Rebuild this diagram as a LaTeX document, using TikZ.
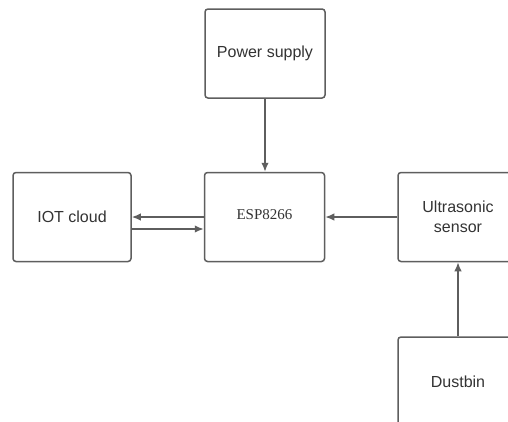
\documentclass[tikz,border=0pt]{standalone}
\usepackage{fontspec}
\setmainfont{Liberation Sans}
\newfontfamily\espfont{Liberation Serif}
\usetikzlibrary{arrows.meta}
\definecolor{linegray}{HTML}{5E5E5E}
\definecolor{textgray}{HTML}{333333}

\begin{document}
\begin{tikzpicture}[x=1pt,y=-1pt,
    block/.style={draw=linegray, line width=1.5pt, rounded corners=3pt, minimum width=120pt, minimum height=89pt, inner sep=0pt, align=center, text=textgray, font=\fontsize{16}{20}\selectfont},
    arr/.style={draw=linegray, line width=1.5pt, -{Latex[length=9pt,width=7.5pt]}}]
    \fill[white] (0,0) rectangle (508,421);
    \useasboundingbox (0,0) rectangle (508,421);
    \clip (0,0) rectangle (508,421);

    \node[block] (power) at (265,53.5) {Power supply}; % top
    \node[block] (esp) at (264.5,217) {\espfont\fontsize{15}{18}\selectfont\raisebox{4pt}{ESP8266}}; % middle
    \node[block, minimum width=118pt] (iot) at (72,217) {IOT cloud}; % left
    \node[block] (ultra) at (458,217) {Ultrasonic\\sensor}; % right
    \node[block] (dust) at (458,381.5) {Dustbin}; % bottom right

    \draw[arr] (power) -- (esp.north -| power);
    \draw[arr] (esp.west) -- (iot.east |- esp.west);
    \draw[arr] ([yshift=-12pt]iot.east) -- ([yshift=-12pt]esp.west |- iot.east);
    \draw[arr] (ultra.west) -- (esp.east |- ultra.west);
    \draw[arr] (dust) -- (ultra);
\end{tikzpicture}
\end{document}
